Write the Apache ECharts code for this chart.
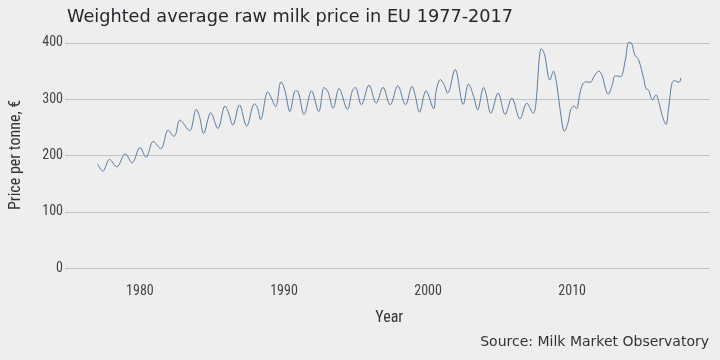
<!DOCTYPE html>
<html>
<head>
<meta charset="utf-8">
<script src="https://cdn.jsdelivr.net/npm/echarts@6/dist/echarts.min.js"></script>
<style>
html,body{margin:0;padding:0;background:#eeeeee;}
#c{width:720px;height:360px;}
</style>
</head>
<body>
<div id="c"></div>
<script>
// Decimal year of each read point (turning points of the monthly series)
var years = [
  1977.06,1977.43,1977.89,1978.40,1978.98,1979.46,1980.01,1980.43,1980.93,1981.45,
  1981.97,1982.37,1982.50,1982.78,1983.45,1983.91,1984.14,1984.42,1984.92,1985.41,
  1985.91,1986.15,1986.45,1986.91,1987.41,1987.95,1988.17,1988.38,1988.87,1989.07,
  1989.42,1989.79,1989.95,1990.13,1990.41,1990.80,1990.99,1991.40,1991.91,1992.41,
  1992.79,1993.06,1993.41,1993.82,1994.40,1994.74,1994.95,1995.37,1995.90,1996.40,
  1996.87,1997.37,1997.90,1998.43,1998.89,1999.12,1999.40,1999.86,2000.39,2000.55,
  2000.85,2001.09,2001.36,2001.87,2002.44,2002.81,2003.16,2003.44,2003.85,2004.01,
  2004.36,2004.86,2005.35,2005.81,2006.38,2006.85,2007.31,2007.47,2007.86,2008.09,
  2008.32,2008.45,2008.69,2008.92,2009.15,2009.47,2009.73,2009.89,2010.12,2010.30,
  2010.53,2010.70,2010.93,2011.27,2011.50,2011.85,2012.08,2012.31,2012.50,2012.77,
  2013.00,2013.35,2013.69,2013.92,2014.11,2014.34,2014.61,2014.96,2015.12,2015.30,
  2015.58,2015.82,2016.00,2016.27,2016.51,2016.69,2016.92,2017.10,2017.43,2017.53
];
// Price per tonne, EUR
var prices = [
  185,172,193,180,203,187,214,197,225,212,
  245,234,239,263,244,282,269,239,276,248,
  288,276,254,290,252,292,284,264,313,305,
  287,331,325,308,278,315,313,273,315,278,
  321,313,284,319,282,315,321,290,325,293,
  321,290,324,290,323,305,277,315,283,313,
  335,327,311,353,291,327,305,281,321,311,
  275,311,273,302,265,293,275,290,390,379,
  343,334,350,328,284,243,260,281,288,283,
  310,325,331,330,340,350,342,319,309,325,
  342,340,370,401,400,379,370,337,319,316,
  299,308,296,269,255,284,328,333,330,338
];
var yTicks = [0, 100, 200, 300, 400];
var xTicks = [1980, 1990, 2000, 2010];

var data = years.map(function (y, i) { return [y, prices[i]]; });

var condensed = '"Roboto Condensed","Liberation Sans Narrow","DejaVu Sans Condensed",Roboto,sans-serif';

var chart = echarts.init(document.getElementById('c'), null, {renderer: 'canvas'});
chart.setOption({
  backgroundColor: '#eeeeee',
  animation: false,
  title: [{
    text: 'Weighted average raw milk price in EU 1977-2017',
    left: 67, top: 8, padding: 0,
    textStyle: {fontFamily: '"DejaVu Sans", sans-serif', fontSize: 17.7, fontWeight: 'normal', color: '#25272c'}
  }, {
    text: 'Source: Milk Market Observatory',
    right: 11, top: 335, padding: 0,
    textStyle: {fontFamily: '"DejaVu Sans", sans-serif', fontSize: 14, fontWeight: 'normal', color: '#333333'}
  }],
  grid: {left: 66.6, right: 10.5, top: 30.6, bottom: 80.7, containLabel: false},
  xAxis: {
    type: 'value',
    min: 1975.08, max: 2019.53,
    name: 'Year', nameLocation: 'middle', nameGap: 31,
    nameTextStyle: {fontFamily: condensed, fontSize: 16, color: '#333333'},
    axisLine: {show: false},
    axisTick: {show: false},
    splitLine: {show: false},
    axisLabel: {customValues: xTicks, fontFamily: condensed, fontSize: 14, color: '#444444', margin: 5,
      formatter: function (v) { return String(v); }}
  },
  yAxis: {
    type: 'value',
    min: -20, max: 422,
    name: 'Price per tonne, €', nameLocation: 'middle', nameGap: 45, nameRotate: 90,
    nameTextStyle: {fontFamily: condensed, fontSize: 16, color: '#333333'},
    axisLine: {show: false},
    axisTick: {show: true, customValues: yTicks, length: 4, lineStyle: {color: '#bbbbbb'}},
    splitLine: {show: true, lineStyle: {color: '#c4c4c4', width: 1}},
    axisLabel: {customValues: yTicks, fontFamily: condensed, fontSize: 14, color: '#444444', margin: 6}
  },
  series: [{
    type: 'line',
    data: data,
    smooth: 0.35,
    showSymbol: false,
    lineStyle: {color: '#5b7ca2', width: 1}
  }]
});
</script>
</body>
</html>
